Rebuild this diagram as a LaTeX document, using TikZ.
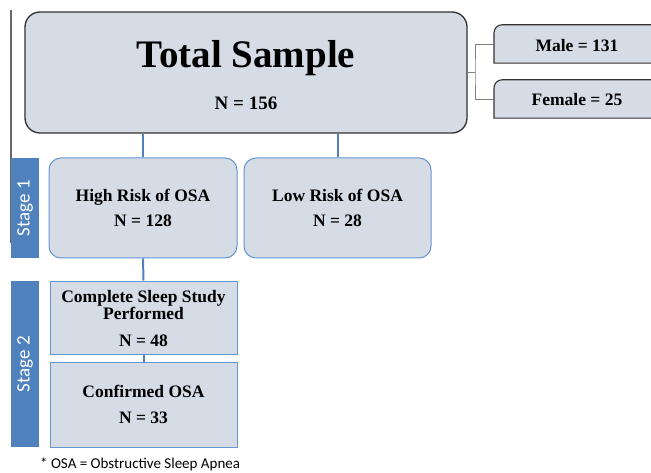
\documentclass[tikz,border=0pt]{standalone}
\usepackage{fontspec}
\setmainfont{Liberation Serif}
\newfontfamily\calib{Carlito}
\definecolor{boxfill}{RGB}{214,220,229}
\definecolor{stageblue}{RGB}{79,129,189}
\definecolor{boxline}{RGB}{100,150,210}
\definecolor{darkline}{RGB}{50,50,50}
\definecolor{grayline}{RGB}{128,128,128}
\begin{document}
\begin{tikzpicture}[x=1pt,y=1pt,
  bigbox/.style={draw=darkline,line width=1.3pt,fill=boxfill,rounded corners=15pt,minimum width=442pt,minimum height=121pt,inner sep=0pt},
  riskbox/.style={draw=boxline,line width=1pt,fill=boxfill,rounded corners=12pt,minimum height=100pt,inner sep=0pt},
  sqbox/.style={draw=boxline,line width=1pt,fill=boxfill,minimum width=187pt,inner sep=0pt},
  stagebar/.style={fill=stageblue,minimum width=28pt,inner sep=0pt},
  stagetxt/.style={text=white,font=\calib\fontsize{19}{21}\selectfont,rotate=90},
  lbl/.style={font=\bfseries\fontsize{17.5}{20}\selectfont,anchor=base,inner sep=0pt},
  sexbox/.style={minimum width=166pt,minimum height=38pt,inner sep=0pt,anchor=west},
  blueconn/.style={draw=stageblue,line width=2pt},
  grayconn/.style={draw=grayline,line width=0.9pt}]
\clip (0,0) rectangle (651,472);
\useasboundingbox (0,0) rectangle (651,472);
\fill[white] (0,0) rectangle (651,472);
% left vertical line
\coordinate (ltop) at (11,462);
\coordinate (lbot) at (11,229);
\draw[grayline!80!black,line width=1.2pt] (ltop) -- (lbot);
% total sample
\node[bigbox] (total) at (246,399.5) {};
\node[font=\bfseries\fontsize{39}{44}\selectfont,anchor=base,inner sep=0pt] (ttitle) at (246,404) {Total Sample};
\node[font=\bfseries\fontsize{19}{22}\selectfont,anchor=base,inner sep=0pt] (tn) at (246,362) {N = 156};
% male / female
\node[sexbox] (male) at (494,428) {};
\node[sexbox] (female) at (494,373) {};
\foreach \b in {male,female}{
  \draw[draw=darkline,line width=1.1pt,fill=boxfill] (\b.south east) -- (\b.south west) -- ([yshift=-8pt]\b.north west) arc(180:90:8pt) -- (\b.north east) -- cycle;
}
\node[lbl] (maletxt) at (577,420) {Male = 131};
\node[lbl] (femaletxt) at (577,366) {Female = 25};
\coordinate (gj) at (475,399.5);
\draw[grayconn] (total.east) -- (gj);
\draw[grayconn] (male.west) -| (gj) |- (female.west);
% stage bars
\node[stagebar,minimum height=100pt] (s1) at (25,264) {};
\node[stagetxt] (s1t) at (s1.center) {Stage 1};
\node[stagebar,minimum height=166pt] (s2) at (25,108) {};
\node[stagetxt] (s2t) at (s2.center) {Stage 2};
% risk boxes
\node[riskbox,minimum width=188pt] (high) at (143,264) {};
\node[riskbox,minimum width=187pt] (low) at (337.5,264) {};
\node[lbl] (hight) at (high.center |- 0,270) {High Risk of OSA};
\node[lbl] (highn) at (high.center |- 0,245) {N = 128};
\node[lbl] (lowt) at (low.center |- 0,270) {Low Risk of OSA};
\node[lbl] (lown) at (low.center |- 0,245) {N = 28};
% stage 2 boxes
\node[sqbox,minimum height=73pt] (complete) at (143.5,154.5) {};
\node[sqbox,minimum height=85pt] (confirmed) at (143.5,67.5) {};
\node[lbl] (c1) at (143.5,170) {Complete Sleep Study};
\node[lbl] (c2) at (143.5,153) {Performed};
\node[lbl] (c3) at (143.5,126) {N = 48};
\node[lbl] (d1) at (143.5,75) {Confirmed OSA};
\node[lbl] (d2) at (143.5,49) {N = 33};
% blue connectors
\draw[blueconn] (total.south -| high.north) -- (high.north);
\draw[blueconn] (total.south -| low.north) -- (low.north);
\draw[blueconn] (high.south) -- (complete.north);
\draw[blueconn] (complete.south) -- (confirmed.north);
% footnote
\node[font=\calib\fontsize{15}{17}\selectfont,anchor=base west,inner sep=0pt] (foot) at (40,3.5) {* OSA = Obstructive Sleep Apnea};
\end{tikzpicture}
\end{document}
